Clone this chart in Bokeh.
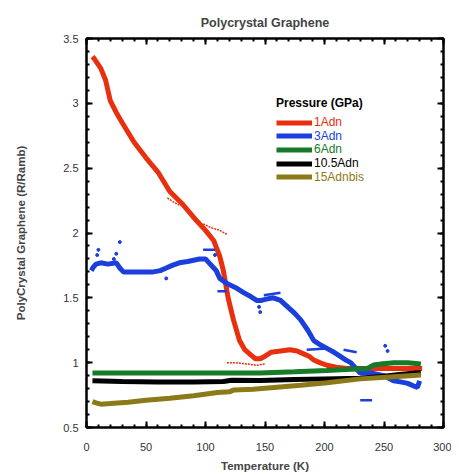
from bokeh.plotting import figure
from bokeh.models import (LinearAxis, Legend, LegendItem, Range1d, FixedTicker,
                          CustomJSTickFormatter)
from bokeh.embed import file_html
from bokeh.resources import INLINE

# ---------------- data ----------------
x_ticks = [0, 50, 100, 150, 200, 250, 300]
x_minor = [v for v in range(0, 301, 10)]
y_ticks = [0.5, 1.0, 1.5, 2.0, 2.5, 3.0, 3.5]
y_minor = [round(0.5 + 0.1 * i, 2) for i in range(31)]

names = ["1Adn", "3Adn", "6Adn", "10.5Adn", "15Adnbis"]

red_T = [5, 6, 9, 12, 16, 20, 25, 30, 40, 50, 60, 70, 80, 92, 100, 107, 112, 115, 119,
         123.5, 128.6, 133, 138, 142, 146, 150, 155, 163, 171, 177, 182, 187, 191, 196,
         202, 210, 219, 230, 241, 255, 270, 282]
red_R = [3.36, 3.35, 3.31, 3.27, 3.18, 3.02, 2.93, 2.85, 2.70, 2.58, 2.47, 2.32, 2.23, 2.10,
         2.02, 1.94, 1.82, 1.71, 1.50, 1.33, 1.17, 1.10, 1.06, 1.03, 1.03, 1.05, 1.08, 1.09,
         1.10, 1.09, 1.07, 1.05, 1.02, 1.0, 0.98, 0.965, 0.955, 0.955, 0.955, 0.955, 0.955,
         0.955]
red_b1_T = [98, 105, 112, 118]
red_b1_R = [2.07, 2.04, 2.02, 1.99]
red_b2_T = [118, 125, 135, 143, 150]
red_b2_R = [1.00, 1.00, 0.99, 0.98, 0.99]
red_b3_T = [68, 73, 79]
red_b3_R = [2.27, 2.24, 2.21]

blue_T = [4, 6, 8, 12, 18, 25, 28, 31, 40, 50, 56, 62, 67, 72, 78, 85, 95, 100, 103, 106,
          109, 112, 115, 118, 125, 132, 138, 143, 147, 151, 157, 163, 169, 175, 180, 186,
          191, 196, 202, 208, 213, 218, 222, 226, 230, 235, 239, 245, 250, 258, 265, 270,
          275, 278, 280]
blue_R = [1.71, 1.74, 1.76, 1.77, 1.76, 1.77, 1.73, 1.70, 1.70, 1.70, 1.70, 1.71, 1.73, 1.75,
          1.77, 1.78, 1.80, 1.80, 1.77, 1.74, 1.71, 1.65, 1.63, 1.61, 1.58, 1.54, 1.51, 1.48,
          1.48, 1.49, 1.50, 1.48, 1.43, 1.38, 1.33, 1.25, 1.17, 1.14, 1.11, 1.08, 1.05, 1.02,
          1.0, 0.96, 0.92, 0.92, 0.92, 0.91, 0.90, 0.86, 0.85, 0.84, 0.82, 0.81, 0.86]
blue_seg_T = [[98, 108], [110, 118], [149, 163], [185, 202], [216, 227], [230, 240], [241, 250]]
blue_seg_R = [[1.87, 1.87], [1.55, 1.55], [1.52, 1.54], [1.10, 1.11], [1.10, 1.08],
              [0.71, 0.71], [0.99, 1.0]]
blue_dot_T = [9, 10, 23, 25, 28, 67, 108, 145, 146, 251, 253]
blue_dot_R = [1.83, 1.87, 1.80, 1.84, 1.93, 1.65, 1.83, 1.43, 1.39, 1.13, 1.09]

green_T = [5, 50, 100, 146, 175, 202, 222, 236, 241, 248, 258, 270, 281]
green_R = [0.92, 0.92, 0.92, 0.92, 0.93, 0.94, 0.95, 0.955, 0.98, 0.99, 1.0, 1.0, 0.99]

black_T = [5, 30, 60, 90, 115, 122, 146, 175, 200, 230, 250, 265, 281]
black_R = [0.86, 0.855, 0.85, 0.85, 0.855, 0.865, 0.862, 0.87, 0.875, 0.88, 0.895, 0.91, 0.925]

olive_T = [5, 8, 12, 20, 35, 50, 70, 90, 110, 120, 124, 140, 160, 180, 202, 230, 255, 281]
olive_R = [0.70, 0.69, 0.68, 0.685, 0.695, 0.71, 0.725, 0.745, 0.77, 0.775, 0.79, 0.795, 0.81,
           0.825, 0.845, 0.875, 0.89, 0.905]

colors = ["#e8300e", "#1a3fdc", "#177a28", "#000000", "#8c7a18"]
FONT = "Liberation Sans"

# ---------------- figure ----------------
p = figure(frame_width=357, frame_height=389, output_backend="svg", toolbar_location=None,
           x_range=Range1d(0, 300), y_range=Range1d(0.5, 3.5),
           min_border_left=86, min_border_right=8, min_border_top=38, min_border_bottom=46,
           title="Polycrystal Graphene")
p.title.align = "center"
p.title.text_font = FONT
p.title.text_font_size = "12.5px"
p.title.text_font_style = "bold"
p.title.standoff = 18
p.grid.visible = False
p.outline_line_color = "black"
p.outline_line_width = 2
p.background_fill_color = "white"
p.border_fill_color = "white"

xt = FixedTicker(ticks=x_ticks, minor_ticks=x_minor)
yt = FixedTicker(ticks=y_ticks, minor_ticks=y_minor)
yfmt = CustomJSTickFormatter(code="return String(Math.round(tick*10)/10);")
blank = CustomJSTickFormatter(code="return '';")

def style_axis(ax):
    ax.axis_line_width = 2
    ax.axis_line_color = "black"
    ax.major_tick_in = 6
    ax.major_tick_out = 0
    ax.minor_tick_in = 3
    ax.minor_tick_out = 0
    ax.major_tick_line_width = 2
    ax.minor_tick_line_width = 2
    ax.major_label_text_font = FONT
    ax.major_label_text_font_size = "11px"
    ax.major_label_text_color = "#333333"
    ax.axis_label_text_font = FONT
    ax.axis_label_text_font_size = "11.5px"
    ax.axis_label_text_font_style = "bold"

p.xaxis.ticker = xt
p.yaxis.ticker = yt
p.yaxis.formatter = yfmt
style_axis(p.xaxis[0])
style_axis(p.yaxis[0])
p.xaxis.axis_label = "Temperature (K)"
p.yaxis.axis_label = "PolyCrystal Graphene (R/Ramb)"
p.xaxis.major_label_standoff = 15
p.xaxis.axis_label_standoff = 6
p.yaxis.major_label_standoff = 8
p.yaxis.axis_label_standoff = 33

top = LinearAxis(ticker=xt, formatter=blank)
right = LinearAxis(ticker=yt, formatter=blank)
style_axis(top)
style_axis(right)
top.major_label_standoff = 0
right.major_label_standoff = 0
p.add_layout(top, "above")
p.add_layout(right, "right")

# ---------------- series ----------------
r_red = p.line(red_T, red_R, line_color=colors[0], line_width=5)
for bT, bR in [(red_b1_T, red_b1_R), (red_b2_T, red_b2_R), (red_b3_T, red_b3_R)]:
    p.line(bT, bR, line_color=colors[0], line_width=1.5, line_dash="2 1")
r_blue = p.line(blue_T, blue_R, line_color=colors[1], line_width=5)
p.multi_line(blue_seg_T, blue_seg_R, line_color=colors[1], line_width=2.5)
p.scatter(blue_dot_T, blue_dot_R, size=3, color=colors[1])
r_green = p.line(green_T, green_R, line_color=colors[2], line_width=5)
r_black = p.line(black_T, black_R, line_color=colors[3], line_width=5)
r_olive = p.line(olive_T, olive_R, line_color=colors[4], line_width=5)

renderers = [r_red, r_blue, r_green, r_black, r_olive]

# ---------------- legend ----------------
row_step = 13.7
for i, (nm, rr, col) in enumerate(zip(names, renderers, colors)):
    leg = Legend(items=[LegendItem(label=nm, renderers=[rr])],
                 location=(190, 298 - i * row_step))
    leg.border_line_alpha = 0
    leg.background_fill_alpha = 0
    leg.padding = 0
    leg.margin = 0
    leg.spacing = 0
    leg.glyph_width = 36
    leg.glyph_height = 13
    leg.label_height = 13
    leg.label_standoff = 2
    leg.label_text_font = FONT
    leg.label_text_font_size = "12px"
    leg.label_text_color = col
    if i == 0:
        leg.title = "Pressure (GPa)"
        leg.title_text_font = FONT
        leg.title_text_font_size = "12px"
        leg.title_text_font_style = "bold"
        leg.title_text_color = "black"
        leg.title_standoff = 5
    p.add_layout(leg, "center")

open("out.html", "w").write(file_html(p, INLINE))
